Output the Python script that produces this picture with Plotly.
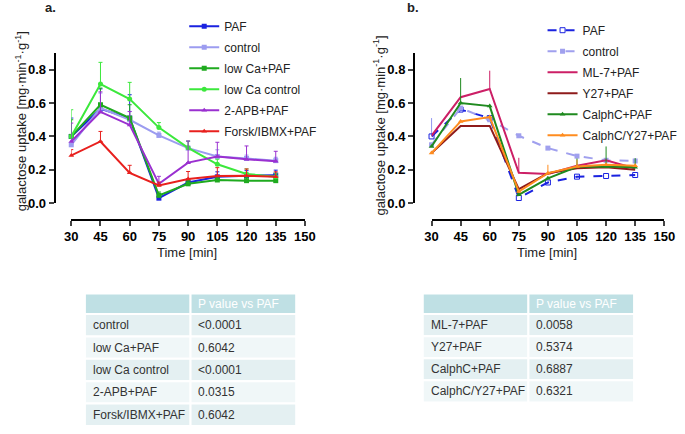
import plotly.graph_objects as go

W, H = 685, 434
time = [30, 45, 60, 75, 90, 105, 120, 135]

# Panel a series
a_paf = [0.40, 0.565, 0.51, 0.03, 0.124, 0.158, 0.165, 0.168]
a_control = [0.35, 0.57, 0.50, 0.406, 0.33, 0.28, 0.268, 0.255]
a_lowca_paf = [0.40, 0.59, 0.51, 0.047, 0.116, 0.139, 0.135, 0.135]
a_lowca_ctrl = [0.40, 0.714, 0.624, 0.453, 0.332, 0.233, 0.175, 0.159]
a_apb = [0.37, 0.547, 0.469, 0.116, 0.243, 0.28, 0.263, 0.251]
a_forsk = [0.286, 0.37, 0.182, 0.106, 0.145, 0.163, 0.165, 0.158]

a_paf_err = [0.11, 0.12, 0.14, 0.01, 0.02, 0.03, 0.03, 0.03]
a_control_err = [0.16, 0.09, 0.05, 0.02, 0.04, 0.04, 0.02, 0.02]
a_lowca_paf_err = [0.10, 0.10, 0.08, 0.02, 0.02, 0.02, 0.02, 0.02]
a_lowca_ctrl_err = [0.16, 0.13, 0.10, 0.03, 0.04, 0.03, 0.03, 0.02]
a_apb_err = [0.11, 0.12, 0.08, 0.045, 0.13, 0.085, 0.08, 0.06]
a_forsk_err = [0.035, 0.06, 0.045, 0.02, 0.045, 0.05, 0.04, 0.03]

# Panel b series
b_paf = [0.40, 0.561, 0.51, 0.031, 0.124, 0.159, 0.163, 0.169]
b_control = [0.35, 0.57, 0.50, 0.404, 0.33, 0.282, 0.257, 0.253]
b_ml7 = [0.404, 0.635, 0.684, 0.182, 0.175, 0.224, 0.257, 0.208]
b_y27 = [0.30, 0.463, 0.463, 0.084, 0.18, 0.21, 0.215, 0.20]
b_calphc = [0.34, 0.60, 0.582, 0.051, 0.149, 0.218, 0.22, 0.215]
b_calphc_y27 = [0.30, 0.49, 0.516, 0.07, 0.18, 0.22, 0.23, 0.225]

b_paf_err = [0.11, 0.0, 0.0, 0.0, 0.0, 0.0, 0.0, 0.0]
b_ml7_err = [0.0, 0.0, 0.11, 0.09, 0.0, 0.0, 0.0, 0.0]
b_calphc_err = [0.0, 0.15, 0.0, 0.0, 0.0, 0.05, 0.12, 0.055]
b_calphc_y27_err = [0.0, 0.0, 0.0, 0.0, 0.05, 0.04, 0.0, 0.0]

# Tables
tab_a_names = ["control", "low Ca+PAF", "low Ca control", "2-APB+PAF", "Forsk/IBMX+PAF"]
tab_a_p = ["<0.0001", "0.6042", "<0.0001", "0.0315", "0.6042"]
tab_b_names = ["ML-7+PAF", "Y27+PAF", "CalphC+PAF", "CalphC/Y27+PAF"]
tab_b_p = ["0.0058", "0.5374", "0.6887", "0.6321"]
tab_header = ["", "P value vs PAF"]

def px_x(p):
    return p / W

def px_y(p):
    return 1 - p / H

fig = go.Figure()

def add(x, y, name, color, symbol, err=None, xa="x", ya="y", legend="legend",
        dash="solid", caps=True, open_=False):
    ey = None
    if err is not None:
        ey = dict(type="data", array=err, arrayminus=[0] * len(err), symmetric=False,
                  color=color, thickness=1, width=2 if caps else 0, visible=True)
    fig.add_trace(go.Scatter(
        x=x, y=y, name=name, mode="lines+markers", xaxis=xa, yaxis=ya, legend=legend,
        legendgroup=legend + name,
        line=dict(color=color, width=2, dash=dash),
        marker=dict(color=color, size=5, symbol=symbol + ("-open" if open_ else "")),
        error_y=ey, cliponaxis=False))

add(time, a_paf, "PAF", "#1a22e0", "square", a_paf_err)
add(time, a_control, "control", "#9c9cf0", "square", a_control_err)
add(time, a_lowca_paf, "low Ca+PAF", "#1faa1f", "square", a_lowca_paf_err)
add(time, a_lowca_ctrl, "low Ca control", "#3ce83c", "circle", a_lowca_ctrl_err)
add(time, a_apb, "2-APB+PAF", "#9a30d0", "triangle-up", a_apb_err)
add(time, a_forsk, "Forsk/IBMX+PAF", "#e8201e", "triangle-up", a_forsk_err)

add(time, b_paf, "PAF", "#1a22e0", "square", b_paf_err, "x2", "y2", "legend2", "dash", False, True)
add(time, b_control, "control", "#a0a0ee", "square", None, "x2", "y2", "legend2", "dash", False)
add(time, b_ml7, "ML-7+PAF", "#cc1f66", "line-ew", b_ml7_err, "x2", "y2", "legend2", "solid", False)
add(time, b_y27, "Y27+PAF", "#8e1b1b", "line-ew", None, "x2", "y2", "legend2", "solid", False)
add(time, b_calphc, "CalphC+PAF", "#1f8a1f", "triangle-up", b_calphc_err, "x2", "y2", "legend2", "solid", False)
add(time, b_calphc_y27, "CalphC/Y27+PAF", "#ff8c1f", "triangle-up", b_calphc_y27_err, "x2", "y2", "legend2", "solid", False)

tickfont = dict(family="Arial", size=13, color="#000", weight="bold")
common_x = dict(range=[30, 150], tickvals=list(range(30, 151, 15)), ticks="outside", ticklen=5,
                tickwidth=2, showline=True, linewidth=2, linecolor="#000", showgrid=False,
                zeroline=False, tickfont=tickfont, anchor="free", position=px_y(224))
common_y = dict(range=[0, 0.9], tickvals=[0, 0.2, 0.4, 0.6, 0.8], tickformat=".1f", ticks="outside",
                ticklen=5, tickwidth=2, showline=True, linewidth=2, linecolor="#000", showgrid=False,
                zeroline=False, tickfont=tickfont, anchor="free", domain=[px_y(207), px_y(54)])

legfont = dict(family="Arial", size=12, color="#222")
fig.update_layout(
    width=W, height=H, margin=dict(l=0, r=0, t=0, b=0),
    paper_bgcolor="white", plot_bgcolor="white",
    font=dict(family="Arial", size=12, color="#333"),
    xaxis=dict(domain=[px_x(66), px_x(306)], **common_x),
    yaxis=dict(position=px_x(49), **common_y),
    xaxis2=dict(domain=[px_x(436), px_x(675)], **common_x),
    yaxis2=dict(position=px_x(418), **common_y),
    legend=dict(x=px_x(182), y=px_y(12), xanchor="left", yanchor="top", bgcolor="rgba(0,0,0,0)",
                font=legfont, itemwidth=30, tracegroupgap=2),
    legend2=dict(x=px_x(550), y=px_y(16), xanchor="left", yanchor="top", bgcolor="rgba(0,0,0,0)",
                 font=legfont, itemwidth=30, tracegroupgap=2),
)

ann = [
    dict(text="<b>a.</b>", x=px_x(45), y=px_y(8)),
    dict(text="<b>b.</b>", x=px_x(417), y=px_y(8)),
    dict(text="Time [min]", x=px_x(185), y=px_y(257)),
    dict(text="Time [min]", x=px_x(555), y=px_y(257)),
    dict(text="galactose uptake [mg·min<sup>-1</sup>·g<sup>-1</sup>]", x=px_x(14), y=px_y(124), textangle=-90),
    dict(text="galactose uptake [mg·min<sup>-1</sup>·g<sup>-1</sup>]", x=px_x(382), y=px_y(128), textangle=-90),
]
for a in ann:
    fig.add_annotation(xref="paper", yref="paper", showarrow=False, xanchor="center", yanchor="middle",
                       font=dict(family="Arial", size=13, color="#222"), **a)

def table(names, pvals, x0, x1, y0, y1, hh):
    xm = (x0 + x1) / 2
    rows = len(names)
    rh = (y1 - y0 - hh) / rows
    cells = [(x0, xm, y0, y0 + hh, "#bfe0e4", tab_header[0], "white"),
             (xm, x1, y0, y0 + hh, "#bfe0e4", tab_header[1], "white")]
    for i in range(rows):
        fill = "#e4f0f2" if i % 2 == 0 else "#f0f7f8"
        ya, yb = y0 + hh + i * rh, y0 + hh + (i + 1) * rh
        cells.append((x0, xm, ya, yb, fill, names[i], "#333"))
        cells.append((xm, x1, ya, yb, fill, pvals[i], "#333"))
    for (cx0, cx1, cy0, cy1, fill, txt, tc) in cells:
        fig.add_shape(type="rect", xref="paper", yref="paper", layer="below",
                      x0=px_x(cx0), x1=px_x(cx1), y0=px_y(cy1), y1=px_y(cy0),
                      fillcolor=fill, line=dict(color="white", width=2))
        if txt:
            fig.add_annotation(xref="paper", yref="paper", showarrow=False,
                               x=px_x(cx0 + 6), y=px_y((cy0 + cy1) / 2),
                               xanchor="left", yanchor="middle", text=txt.replace("<", "&lt;"),
                               font=dict(family="Arial", size=12, color=tc))

table(tab_a_names, tab_a_p, 80, 297, 299, 434, 21)
table(tab_b_names, tab_b_p, 427, 644, 299, 410, 21)

fig.write_html("out.html", config={"displayModeBar": False},
               post_script="document.body.style.margin='0';document.body.style.overflow='hidden';")
